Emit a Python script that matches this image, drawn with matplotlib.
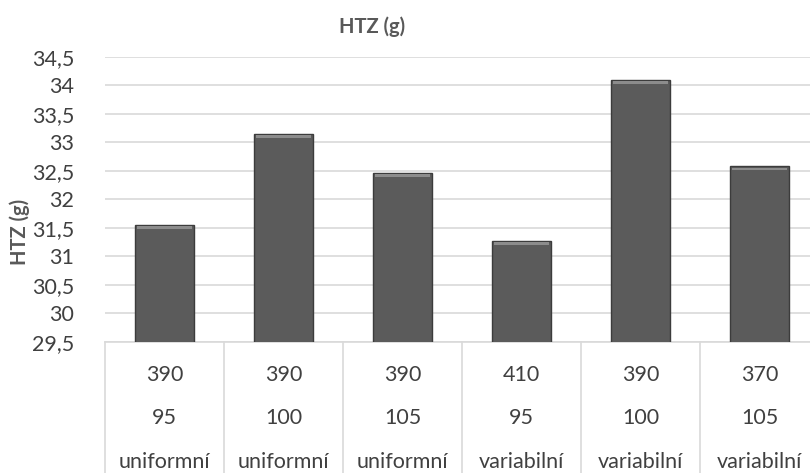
import numpy as np
import matplotlib.pyplot as plt
import matplotlib.transforms as mtransforms

# data
hustota = ['390', '390', '390', '410', '390', '370']
davka = ['95', '100', '105', '95', '100', '105']
vysev = ['uniformní', 'uniformní', 'uniformní', 'variabilní', 'variabilní', 'variabilní']
htz = [31.56, 33.15, 32.47, 31.27, 34.10, 32.58]
yticks = [29.5, 30, 30.5, 31, 31.5, 32, 32.5, 33, 33.5, 34, 34.5]
ytick_labels = ['29,5', '30', '30,5', '31', '31,5', '32', '32,5', '33', '33,5', '34', '34,5']

plt.rcParams['font.family'] = ['Lato', 'DejaVu Sans']
txt = '#404040'
grid = '#d9d9d9'
fs = 15.5

fig = plt.figure(figsize=(8.1, 4.73), dpi=100)
ax = fig.add_axes([105 / 810, 131 / 473, 714 / 810, 285 / 473])

x = np.arange(len(htz))
ax.bar(x, htz, width=0.5, bottom=0, color='#5b5b5b', edgecolor='#3c3c3c',
       linewidth=1.0, zorder=3)
# light bevel on bar tops
ax.bar(x, [0.05] * len(htz), width=0.46, bottom=np.array(htz) - 0.07,
       color='#8c8c8c', linewidth=0, zorder=4)

ax.set_ylim(29.5, 34.5)
ax.set_xlim(-0.5, len(htz) - 0.5)
ax.set_yticks(yticks)
ax.set_yticklabels(ytick_labels, fontsize=fs, color=txt)
ax.set_xticks([])
ax.tick_params(axis='y', length=0, pad=22)
ax.grid(axis='y', color=grid, linewidth=1.2, zorder=0)
for s in ['top', 'right', 'left']:
    ax.spines[s].set_visible(False)
ax.spines['bottom'].set_color(grid)
ax.spines['bottom'].set_linewidth(1.2)

# multi-level category axis
trans = mtransforms.blended_transform_factory(ax.transData, ax.transAxes)
for b in np.arange(-0.5, len(htz), 1.0):
    ax.plot([b, b], [0, -0.47], transform=trans, color=grid, lw=1.2, clip_on=False)
for i in range(len(htz)):
    ax.text(i, -0.116, hustota[i], transform=trans, ha='center', va='center',
            fontsize=fs, color=txt)
    ax.text(i, -0.267, davka[i], transform=trans, ha='center', va='center',
            fontsize=fs, color=txt)
    ax.text(i, -0.421, vysev[i], transform=trans, ha='center', va='center',
            fontsize=fs, color=txt)

fig.text(372 / 810, 1 - 27 / 473, 'HTZ (g)', ha='center', va='center',
         fontsize=14.5, fontweight='bold', color='#595959')
fig.text(20 / 810, 1 - 232 / 473, 'HTZ (g)', ha='center', va='center',
         rotation=90, fontsize=14.5, fontweight='bold', color='#595959')

fig.savefig('out.png', dpi=100)
